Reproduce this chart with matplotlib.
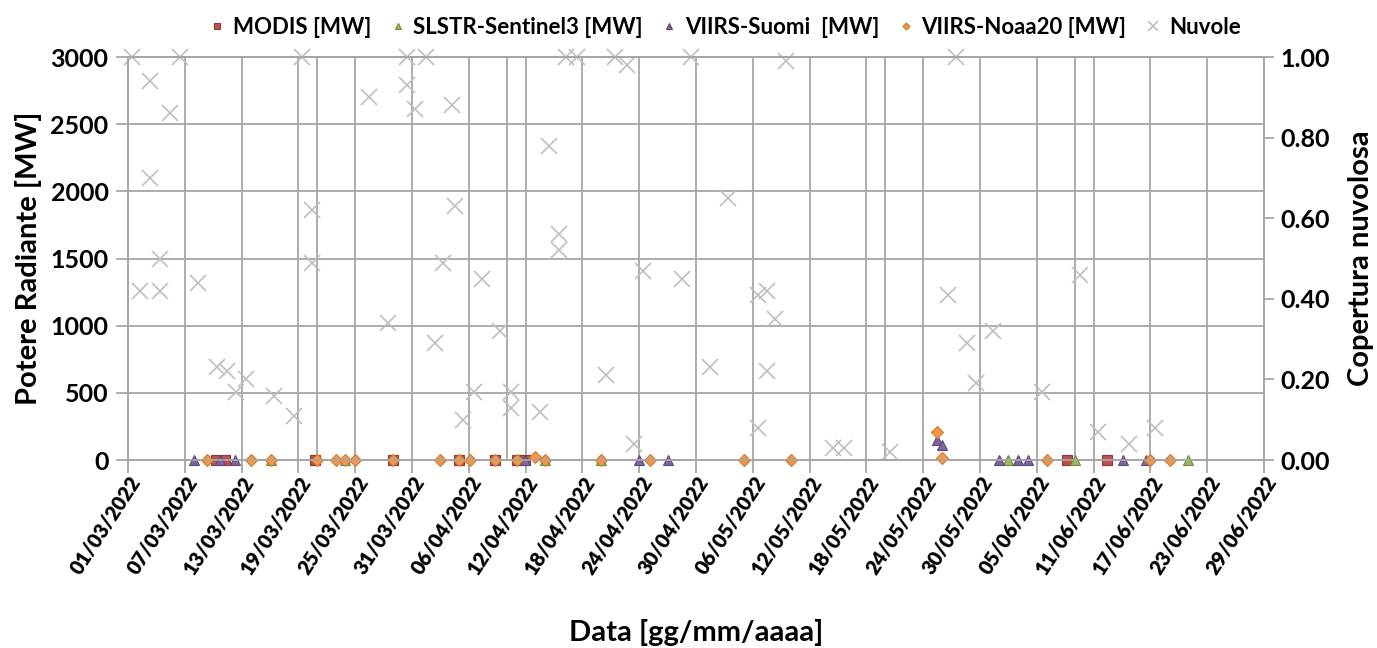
import pandas as pd
import matplotlib
matplotlib.use('Agg')
import matplotlib.pyplot as plt
import matplotlib.dates as mdates
from matplotlib.ticker import FixedLocator, MultipleLocator, FuncFormatter

plt.rcParams['font.family'] = ['Lato', 'DejaVu Sans']
plt.rcParams['font.weight'] = 'bold'

# Cloud cover (right axis, 0-1)
cloud_dates = ['2022-03-01 10:00', '2022-03-02 07:00', '2022-03-03 07:00', '2022-03-03 07:00',
               '2022-03-04 10:00', '2022-03-04 10:00', '2022-03-05 10:00', '2022-03-06 12:00',
               '2022-03-08 10:00', '2022-03-10 10:00', '2022-03-11 10:00', '2022-03-12 10:00',
               '2022-03-13 10:00', '2022-03-16 10:00', '2022-03-18 12:00', '2022-03-19 10:00',
               '2022-03-20 10:00', '2022-03-20 10:00', '2022-03-26 10:00', '2022-03-28 10:00',
               '2022-03-30 10:00', '2022-03-30 10:00', '2022-03-31 07:00', '2022-04-01 12:00',
               '2022-04-02 10:00', '2022-04-03 07:00', '2022-04-04 05:00', '2022-04-04 12:00',
               '2022-04-05 10:00', '2022-04-06 12:00', '2022-04-07 10:00', '2022-04-09 07:00',
               '2022-04-10 12:00', '2022-04-10 12:00', '2022-04-13 12:00', '2022-04-14 10:00',
               '2022-04-15 12:00', '2022-04-15 12:00', '2022-04-16 07:00', '2022-04-17 10:00',
               '2022-04-20 12:00', '2022-04-21 10:00', '2022-04-22 17:00', '2022-04-23 10:00',
               '2022-04-24 10:00', '2022-04-28 12:00', '2022-04-29 12:00', '2022-05-01 12:00',
               '2022-05-03 10:00', '2022-05-06 14:00', '2022-05-06 14:00', '2022-05-07 12:00',
               '2022-05-07 12:00', '2022-05-08 07:00', '2022-05-09 12:00', '2022-05-14 12:00',
               '2022-05-15 14:00', '2022-05-20 12:00', '2022-05-26 14:00', '2022-05-27 12:00',
               '2022-05-28 14:00', '2022-05-29 14:00', '2022-05-31 10:00', '2022-06-05 12:00',
               '2022-06-09 14:00', '2022-06-11 12:00', '2022-06-14 17:00', '2022-06-17 12:00']
cloud_cover = [1.00, 0.42, 0.94, 0.70,
               0.50, 0.42, 0.86, 1.00,
               0.44, 0.23, 0.22, 0.17,
               0.20, 0.16, 0.11, 1.00,
               0.62, 0.49, 0.90, 0.34,
               0.93, 1.00, 0.87, 1.00,
               0.29, 0.49, 0.88, 0.63,
               0.10, 0.17, 0.45, 0.32,
               0.17, 0.13, 0.12, 0.78,
               0.56, 0.52, 1.00, 1.00,
               0.21, 1.00, 0.98, 0.04,
               0.47, 0.45, 1.00, 0.23,
               0.65, 0.41, 0.08, 0.42,
               0.22, 0.35, 0.99, 0.03,
               0.03, 0.02, 0.41, 1.00,
               0.29, 0.19, 0.32, 0.17,
               0.46, 0.07, 0.04, 0.08]

# Fire radiative power (left axis, MW)
modis_dates = ['2022-03-10 07:00', '2022-03-11 05:00', '2022-03-20 19:00', '2022-03-29 00:00',
               '2022-04-05 00:00', '2022-04-08 19:00', '2022-04-11 02:00', '2022-04-11 22:00',
               '2022-06-08 05:00', '2022-06-12 10:00']
modis_mw = [0, 0, 0, 0, 0, 0, 0, 0, 0, 0]

slstr_dates = ['2022-03-16 02:00', '2022-03-23 22:00', '2022-04-14 00:00', '2022-04-20 00:00',
               '2022-06-01 22:00', '2022-06-09 00:00', '2022-06-20 22:00']
slstr_mw = [0, 0, 0, 0, 0, 0, 0]

suomi_dates = ['2022-03-08 00:00', '2022-03-10 17:00', '2022-03-12 07:00', '2022-04-11 22:00',
               '2022-04-24 00:00', '2022-04-27 02:00', '2022-05-25 10:00', '2022-05-26 00:00',
               '2022-06-01 00:00', '2022-06-03 00:00', '2022-06-04 02:00', '2022-06-14 02:00',
               '2022-06-16 12:00']
suomi_mw = [0, 0, 0, 0, 0, 0, 150, 110, 0, 0, 0, 0, 0]

noaa_dates = ['2022-03-09 07:00', '2022-03-14 00:00', '2022-03-16 02:00', '2022-03-20 22:00',
              '2022-03-23 00:00', '2022-03-23 22:00', '2022-03-25 00:00', '2022-03-29 00:00',
              '2022-04-03 00:00', '2022-04-05 00:00', '2022-04-06 02:00', '2022-04-08 19:00',
              '2022-04-11 02:00', '2022-04-13 00:00', '2022-04-14 00:00', '2022-04-20 00:00',
              '2022-04-25 02:00', '2022-05-05 02:00', '2022-05-10 00:00', '2022-05-25 12:00',
              '2022-05-26 00:00', '2022-06-06 02:00', '2022-06-17 00:00', '2022-06-19 02:00']
noaa_mw = [0, 0, 0, 0, 0, 0, 0, 0, 0, 0, 0, 0,
           0, 25, 0, 0, 0, 0, 0, 210, 15, 0, 0, 0]

grid_col = '#A6A6A6'

fig = plt.figure(figsize=(13.77, 6.48), dpi=100)
ax = fig.add_axes([0.093, 0.290, 0.825, 0.622])
ax2 = ax.twinx()

ax.plot(pd.to_datetime(modis_dates), modis_mw, ls='none', marker='s', ms=7,
        mfc='#C0504D', mec='#8C3836', mew=0.8, label='MODIS [MW]', zorder=3, clip_on=False)
ax.plot(pd.to_datetime(slstr_dates), slstr_mw, ls='none', marker='^', ms=7.5,
        mfc='#9BBB59', mec='#71893F', mew=0.8, label='SLSTR-Sentinel3 [MW]', zorder=3, clip_on=False)
ax.plot(pd.to_datetime(suomi_dates), suomi_mw, ls='none', marker='^', ms=7.5,
        mfc='#8064A2', mec='#5C4776', mew=0.8, label='VIIRS-Suomi  [MW]', zorder=3, clip_on=False)
ax.plot(pd.to_datetime(noaa_dates), noaa_mw, ls='none', marker='D', ms=6,
        mfc='#F79646', mec='#D07A30', mew=0.8, label='VIIRS-Noaa20 [MW]', zorder=3, clip_on=False)
ax2.plot(pd.to_datetime(cloud_dates), cloud_cover, ls='none', marker='x', ms=12,
         mec='#BFBFBF', mew=1.2, label='Nuvole', clip_on=False)

start, end = pd.Timestamp('2022-03-01'), pd.Timestamp('2022-06-29')
ax.set_xlim(start, end)
ax.set_ylim(0, 3000)
ax2.set_ylim(0, 1)

major = mdates.date2num(pd.date_range(start, end, freq='6D'))
minor = mdates.date2num(pd.date_range(start, end, freq='20D'))
ax.xaxis.set_major_locator(FixedLocator(major))
ax.xaxis.set_minor_locator(FixedLocator(minor))
ax.xaxis.set_major_formatter(mdates.DateFormatter('%d/%m/%Y'))
ax.yaxis.set_major_locator(MultipleLocator(500))
ax2.yaxis.set_major_locator(MultipleLocator(0.2))
ax2.yaxis.set_major_formatter(FuncFormatter(lambda v, p: f'{v:.2f}'))

ax.set_axisbelow(True)
ax.grid(True, which='both', axis='x', color=grid_col, lw=1.3)
ax.grid(True, which='major', axis='y', color=grid_col, lw=1.3)
for a in (ax, ax2):
    for s in a.spines.values():
        s.set_color(grid_col)
        s.set_linewidth(1.3)

ax.tick_params(axis='x', which='major', length=9, color=grid_col, width=1.3, pad=0)
ax.tick_params(axis='x', which='minor', length=0)
ax.tick_params(axis='y', length=9, color=grid_col, width=1.3, labelsize=18, pad=5)
ax2.tick_params(axis='y', length=7, color=grid_col, width=1.3, labelsize=18, pad=5)
for lab in ax.get_xticklabels():
    lab.set_rotation(57)
    lab.set_ha('right')
    lab.set_va('top')
    lab.set_rotation_mode('anchor')
    lab.set_fontsize(14.5)
    lab.set_fontweight('heavy')

ax.set_ylabel('Potere Radiante [MW]', fontsize=21, fontweight='bold', labelpad=6)
ax2.set_ylabel('Copertura nuvolosa', fontsize=21, fontweight='bold', labelpad=13)
ax.set_xlabel('Data [gg/mm/aaaa]', fontsize=21, fontweight='bold', labelpad=30)

h1, l1 = ax.get_legend_handles_labels()
h2, l2 = ax2.get_legend_handles_labels()
fig.legend(h1 + h2, l1 + l2, loc='center', bbox_to_anchor=(0.526, 0.958), ncol=5,
           frameon=False, fontsize=16, markerscale=0.6, handlelength=0.8,
           handletextpad=0.3, columnspacing=0.8)

fig.savefig('out.png', dpi=100)
